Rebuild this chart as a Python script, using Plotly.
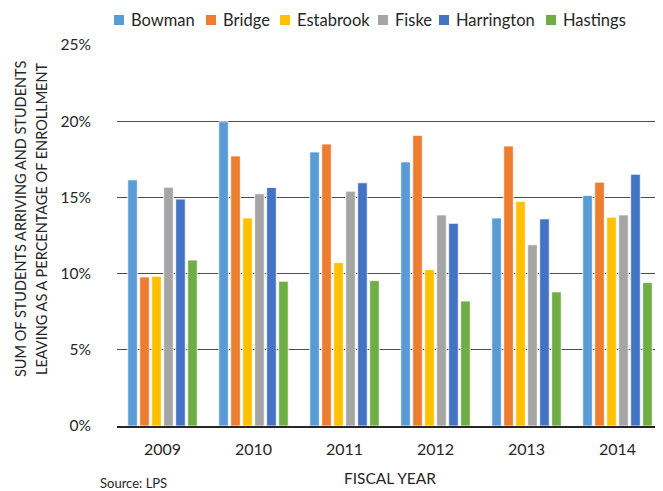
import plotly.graph_objects as go

years = ['2009', '2010', '2011', '2012', '2013', '2014']

bowman = [16.15, 19.96, 17.98, 17.33, 13.65, 15.13]
bridge = [9.78, 17.72, 18.5, 19.07, 18.37, 16.0]
estabrook = [9.83, 13.65, 10.72, 10.26, 14.74, 13.7]
fiske = [15.67, 15.24, 15.41, 13.85, 11.89, 13.85]
harrington = [14.89, 15.65, 15.96, 13.3, 13.59, 16.52]
hastings = [10.89, 9.5, 9.54, 8.2, 8.8, 9.41]

names = ['Bowman', 'Bridge', 'Estabrook', 'Fiske', 'Harrington', 'Hastings']
values = [bowman, bridge, estabrook, fiske, harrington, hastings]
colors = ['#5B9BD5', '#ED7D31', '#FFC000', '#A5A5A5', '#4472C4', '#70AD47']

FONT = 'Lato, Carlito, Calibri, sans-serif'
TEXT = '#262626'

# the page body adds an 8px margin, so the figure is drawn 8px smaller
# and screen positions are shifted by that offset
OFF = 8
W, H = 663 - OFF, 491 - OFF
L, R, T, B = 117 - OFF, 0, 45 - OFF, 65
PW, PH = W - L - R, H - T - B


def px(x):
    return (x - OFF - L) / PW


def py(y):
    return (H - B - (y - OFF)) / PH


fig = go.Figure()
for name, vals, color in zip(names, values, colors):
    fig.add_trace(go.Bar(
        x=years, y=vals, name=name, showlegend=False,
        marker=dict(color=color, line=dict(color='white', width=0.8)),
    ))

fig.update_layout(
    width=W, height=H,
    margin=dict(l=L, r=R, t=T, b=B),
    paper_bgcolor='white', plot_bgcolor='white',
    font=dict(family=FONT, size=15, color=TEXT),
    barmode='group', bargap=0.21, bargroupgap=0.2,
)

fig.update_yaxes(
    range=[0, 25], dtick=5, ticksuffix='%',
    showgrid=True, gridcolor='#4d4d4d', gridwidth=1.2,
    zeroline=False, showline=False, ticks='',
    tickfont=dict(size=15.5), ticklabelstandoff=25,
)
fig.update_xaxes(
    showline=True, linecolor='#262626', linewidth=1.5,
    ticks='', tickfont=dict(size=16), ticklabelstandoff=8,
    title=dict(text='FISCAL YEAR', font=dict(size=15.5), standoff=16),
)

# y-axis title, two lines, sitting slightly above the plot centre
for line, x in [('SUM OF STUDENTS ARRIVING AND STUDENTS', 20),
                ('LEAVING AS A PERCENTAGE OF ENROLLMENT', 41)]:
    fig.add_annotation(
        text=line, xref='paper', yref='paper', x=px(x), y=py(219), textangle=-90,
        xanchor='center', yanchor='middle', showarrow=False,
        font=dict(size=14.5, color=TEXT),
    )

fig.add_annotation(text='Source: LPS', xref='paper', yref='paper', x=px(98), y=py(483),
                   xanchor='left', yanchor='middle', showarrow=False,
                   font=dict(size=13, color=TEXT))

# legend row across the top
legend_text_x = [129, 221, 295, 393, 454, 561]
legend_y = 20
for name, color, tx in zip(names, colors, legend_text_x):
    fig.add_shape(type='rect', xref='paper', yref='paper',
                  xsizemode='pixel', ysizemode='pixel',
                  xanchor=px(tx - 10), yanchor=py(legend_y),
                  x0=-5, x1=5, y0=-5, y1=5,
                  fillcolor=color, line=dict(width=0))
    fig.add_annotation(text=name, xref='paper', yref='paper', x=px(tx), y=py(legend_y),
                       xanchor='left', yanchor='middle', showarrow=False,
                       font=dict(size=16.5, color=TEXT))

fig.write_html('out.html')
